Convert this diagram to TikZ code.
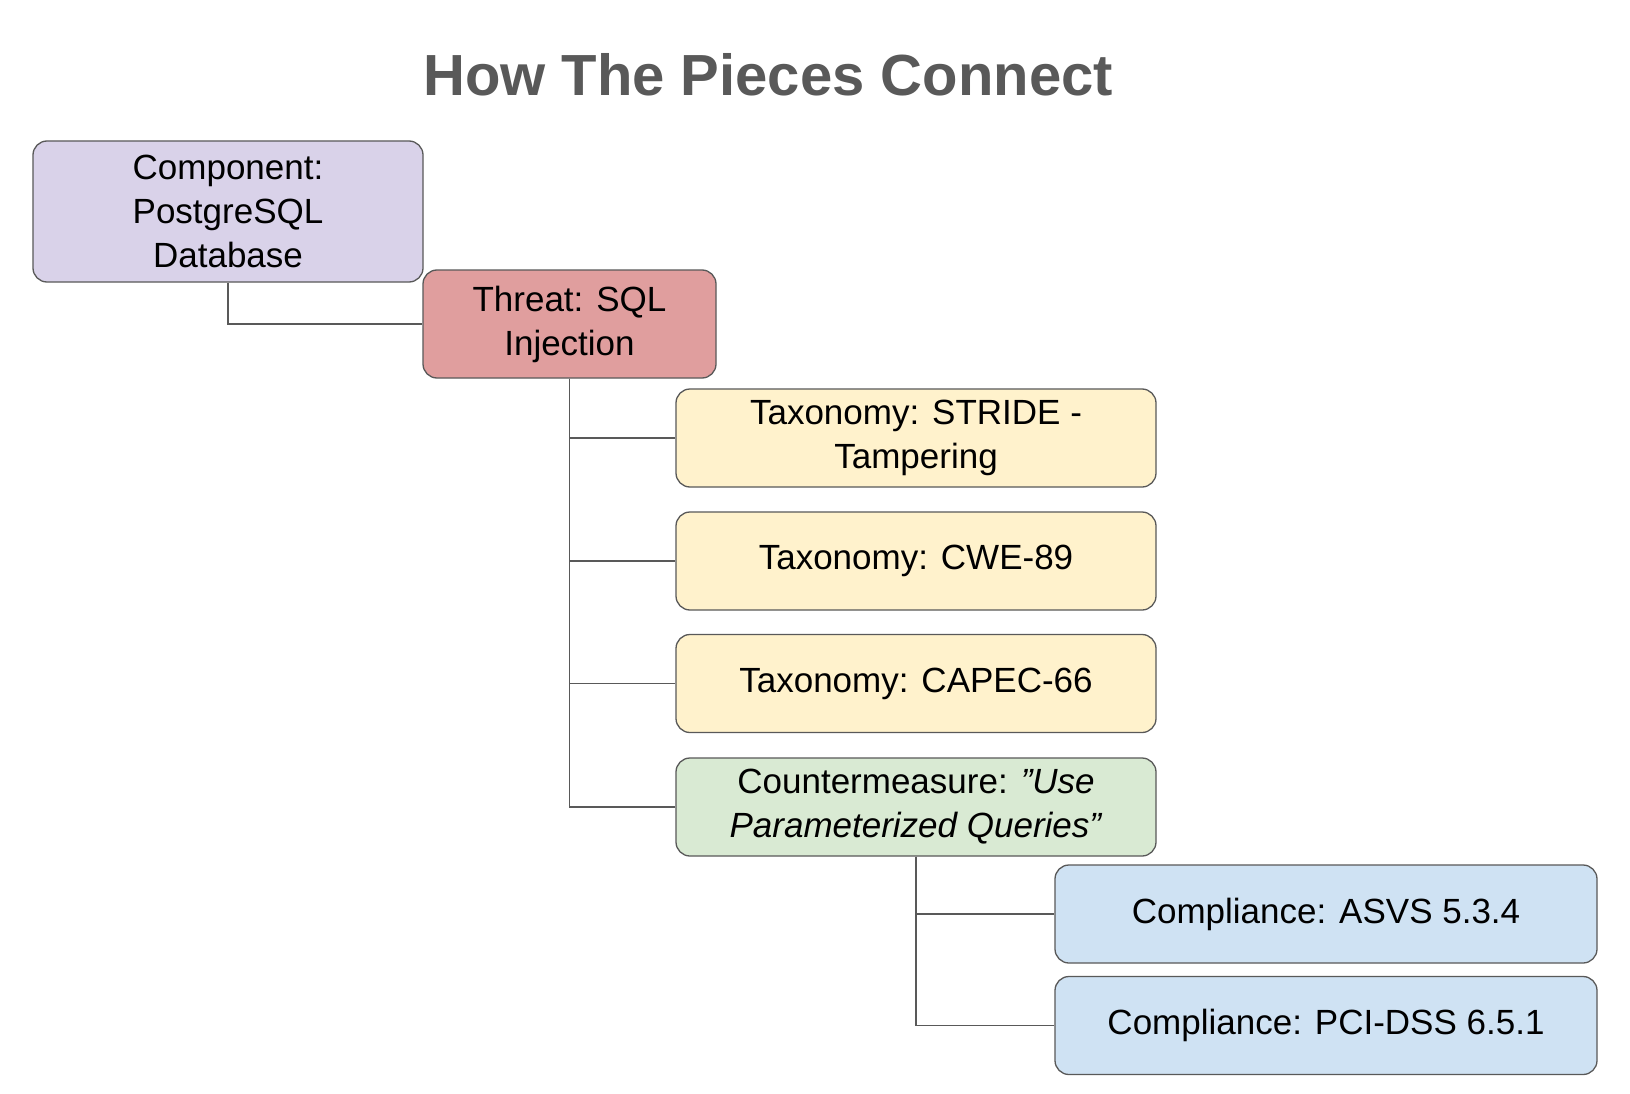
\documentclass[tikz,border=0pt]{standalone}
\usepackage{fontspec}
\setmainfont{Liberation Sans}
\begin{document}
\begin{tikzpicture}[x=1pt,y=-1pt,
 box/.style={draw=black!65,line width=1.3pt,rounded corners=14pt,align=center,inner sep=0pt,font=\fontsize{35}{44}\selectfont},
 ln/.style={draw=black!65,line width=1.3pt}]
\useasboundingbox[fill=white] (0,0) rectangle (1630,1094);
\node[font=\bfseries\fontsize{58}{66}\selectfont,text=black!65] (t) at (768,75) {How The Pieces Connect};
\node[box,fill={rgb,255:red,217;green,210;blue,233},minimum width=390,minimum height=141] (c) at (228,211.5) {Component:\\PostgreSQL\\Database};
\node[box,fill={rgb,255:red,224;green,158;blue,158},minimum width=293,minimum height=108] (th) at (569.5,324) {Threat: SQL\\Injection};
\tikzset{ybox/.style={box,fill={rgb,255:red,255;green,242;blue,204},minimum width=480,minimum height=98}}
\node[ybox] (t1) at (916,438) {Taxonomy: STRIDE -\\Tampering};
\node[ybox] (t2) at (916,561) {Taxonomy: CWE-89};
\node[ybox] (t3) at (916,683.5) {Taxonomy: CAPEC-66};
\node[box,fill={rgb,255:red,217;green,234;blue,211},minimum width=480,minimum height=98] (cm) at (916,807) {Countermeasure: \textit{"Use}\\\textit{Parameterized Queries"}};
\tikzset{bbox/.style={box,fill={rgb,255:red,207;green,226;blue,243},minimum width=542,minimum height=98}}
\node[bbox] (p1) at (1326,914) {Compliance: ASVS 5.3.4};
\node[bbox] (p2) at (1326,1025.5) {Compliance: PCI-DSS 6.5.1};
\draw[ln] (c.south) |- (th.west);
\foreach \n in {t1,t2,t3,cm} \draw[ln] (th.south) |- (\n.west);
\foreach \n in {p1,p2} \draw[ln] (cm.south) |- (\n.west);
\end{tikzpicture}
\end{document}
